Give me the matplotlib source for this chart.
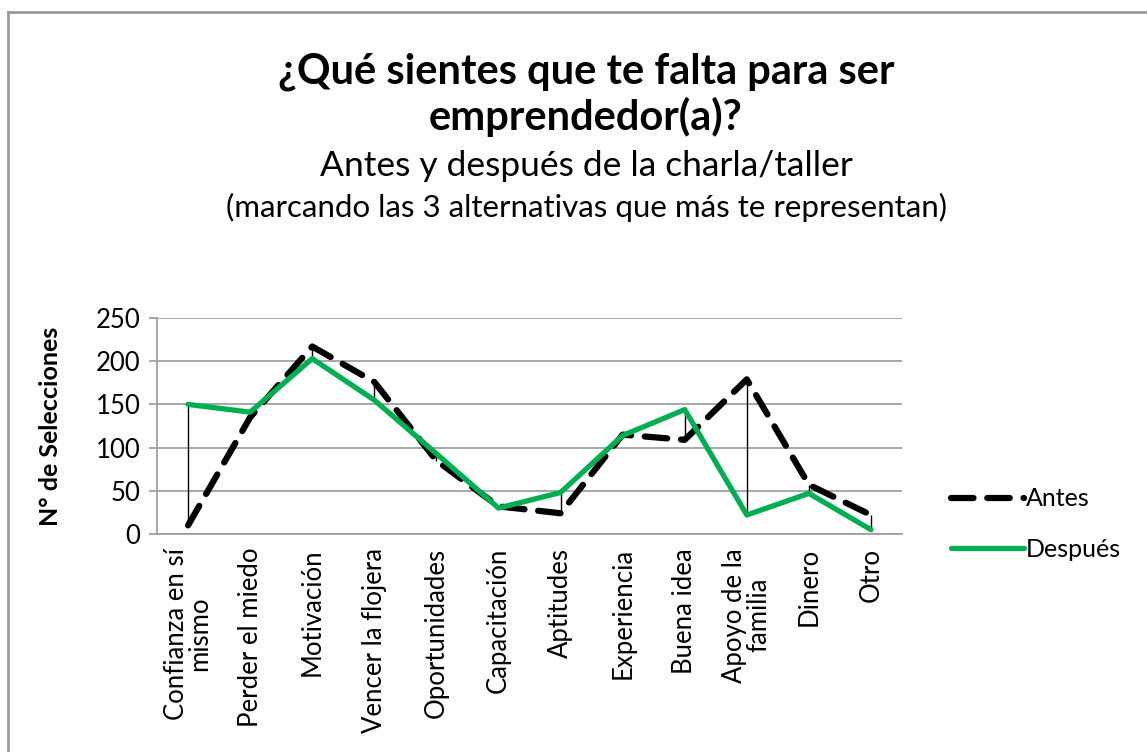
import matplotlib

matplotlib.use("Agg")
import matplotlib.pyplot as plt
from matplotlib.lines import Line2D
import numpy as np

categorias = [
    "Confianza en sí\nmismo",
    "Perder el miedo",
    "Motivación",
    "Vencer la flojera",
    "Oportunidades",
    "Capacitación",
    "Aptitudes",
    "Experiencia",
    "Buena idea",
    "Apoyo de la\nfamilia",
    "Dinero",
    "Otro",
]
antes = [10, 135, 217, 176, 85, 32, 24, 115, 109, 179, 57, 22]
despues = [150, 141, 203, 155, 93, 30, 48, 114, 144, 22, 47, 5]
yticks = [0, 50, 100, 150, 200, 250]

GREEN = "#00B050"
GRID = "#A0A0A0"

plt.rcParams["font.family"] = ["Lato", "DejaVu Sans"]

fig = plt.figure(figsize=(11.47, 7.52), dpi=100)
# outer chart border (only top and left visible in the crop)
fig.add_artist(Line2D([8 / 1147, 1.0], [1 - 12 / 752] * 2, color="#9a9a9a", lw=2.0))
fig.add_artist(Line2D([8 / 1147] * 2, [0.0, 1 - 12 / 752], color="#9a9a9a", lw=2.0))

ax = fig.add_axes([157 / 1147, 1 - 534 / 752, 745 / 1147, 216 / 752])
x = np.arange(len(categorias))

# high-low lines between the two series
ax.vlines(x, np.minimum(antes, despues), np.maximum(antes, despues), color="black", lw=1.0, zorder=2)
ax.plot(x, antes, color="black", lw=4.5, ls=(0, (3.6, 2.2)), dash_capstyle="round",
        solid_joinstyle="round", label="Antes", zorder=3)
ax.plot(x, despues, color=GREEN, lw=3.8, solid_capstyle="round", solid_joinstyle="round",
        label="Después", zorder=4)

ax.set_xlim(-0.5, len(categorias) - 0.5)
ax.set_ylim(0, 250)
ax.set_yticks(yticks)
ax.set_xticks(x)
ax.set_xticklabels(categorias, rotation=90, ha="center", va="top", fontsize=18.5,
                   multialignment="center", linespacing=0.95)
ax.tick_params(axis="x", length=0, pad=10)
ax.tick_params(axis="y", length=6, width=1.3, color=GRID, labelsize=18.5, pad=6)
ax.grid(axis="y", color=GRID, lw=1.3)
ax.set_axisbelow(True)
for s in ("top", "right"):
    ax.spines[s].set_visible(False)
for s in ("left", "bottom"):
    ax.spines[s].set_color(GRID)
    ax.spines[s].set_linewidth(1.3)
ax.set_ylabel("N° de Selecciones", fontsize=18, fontweight="bold", labelpad=24)

fig.legend(loc="center left", bbox_to_anchor=(941 / 1147, 1 - 524 / 752), frameon=False,
           fontsize=18, handlelength=2.9, handletextpad=0.1, labelspacing=1.1,
           borderaxespad=0)

cx = 586 / 1147
fig.text(cx, 1 - 72 / 752, "¿Qué sientes que te falta para ser", ha="center", va="center",
         fontsize=30, fontweight="bold")
fig.text(cx, 1 - 117 / 752, "emprendedor(a)?", ha="center", va="center",
         fontsize=30, fontweight="bold")
fig.text(cx, 1 - 166 / 752, "Antes y después de la charla/taller", ha="center", va="center",
         fontsize=25.5)
fig.text(cx, 1 - 207 / 752, "(marcando las 3 alternativas que más te representan)",
         ha="center", va="center", fontsize=22.5)

fig.savefig("out.png", dpi=100)
